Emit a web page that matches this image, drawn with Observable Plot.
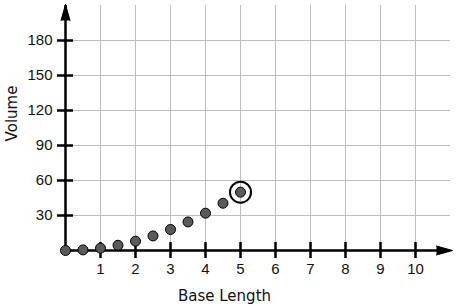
<!DOCTYPE html>
<html>
<head>
<meta charset="utf-8">
<script src="https://cdn.jsdelivr.net/npm/d3@7"></script>
<script src="https://cdn.jsdelivr.net/npm/@observablehq/plot@0.6"></script>
<style>
  html, body { margin: 0; padding: 0; background: #fff; }
  #chart svg { display: block; }
</style>
</head>
<body>
<div id="chart"></div>
<script>
const baseLength = [0, 0.5, 1, 1.5, 2, 2.5, 3, 3.5, 4, 4.5, 5];
const volume = [0, 0.5, 2, 4.5, 8, 12.5, 18, 24.5, 32, 40.5, 50];
const xTicks = [1, 2, 3, 4, 5, 6, 7, 8, 9, 10];
const yTicks = [30, 60, 90, 120, 150, 180];
const highlightIndex = [10];
const xTitle = "Base Length";
const yTitle = "Volume";
const xMax = 11;
const yMax = 210;

const points = baseLength.map((b, i) => ({x: b, y: volume[i]}));
const highlighted = highlightIndex.map(i => points[i]);

const chart = Plot.plot({
  width: 456,
  height: 308,
  marginLeft: 65,
  marginRight: 6,
  marginTop: 5,
  marginBottom: 58,
  style: {fontFamily: "'Liberation Sans', Arial, sans-serif", fontSize: "15px", background: "#fff"},
  x: {domain: [0, xMax]},
  y: {domain: [0, yMax]},
  marks: [
    Plot.gridX(xTicks, {stroke: "#bdbdbd", strokeOpacity: 1, strokeWidth: 1}),
    Plot.gridY(yTicks, {stroke: "#bdbdbd", strokeOpacity: 1, strokeWidth: 1}),
    Plot.ruleY([0], {x1: 0, x2: xMax, stroke: "black", strokeWidth: 2.5}),
    Plot.ruleX([0], {y1: 0, y2: yMax, stroke: "black", strokeWidth: 2.5}),
    Plot.vector([{x: xMax, y: 0}], {x: "x", y: "y", length: 16, r: 4.5, rotate: 90, anchor: "end", shape: "spike", fill: "black", stroke: "black", strokeWidth: 1, dx: 2}),
    Plot.vector([{x: 0, y: yMax}], {x: "x", y: "y", length: 16, r: 4.5, rotate: 0, anchor: "end", shape: "spike", fill: "black", stroke: "black", strokeWidth: 1, dy: -1}),
    Plot.axisX(xTicks, {tickSize: 16, dy: -8, tickPadding: 5, strokeWidth: 2.5, stroke: "black", label: null, fontSize: 15, fill: "#111"}),
    Plot.axisY(yTicks, {tickSize: 16, dx: 8, tickPadding: 5, strokeWidth: 2.5, stroke: "black", label: null, fontSize: 15, fill: "#111"}),
    Plot.dot(points, {x: "x", y: "y", r: 5, fill: "#5a5a5a", stroke: "black", strokeWidth: 1}),
    Plot.dot(highlighted, {x: "x", y: "y", r: 10.5, fill: "none", stroke: "black", strokeWidth: 2}),
    Plot.text([xTitle], {frameAnchor: "bottom", text: d => d, textAnchor: "middle", lineAnchor: "middle", dx: -33.5, dy: 46, fontFamily: "'DejaVu Sans', sans-serif", fontSize: 15, fill: "#111"}),
    Plot.text([yTitle], {frameAnchor: "left", text: d => d, textAnchor: "middle", lineAnchor: "middle", rotate: -90, dx: -53, dy: -14.5, fontFamily: "'DejaVu Sans', sans-serif", fontSize: 15, fill: "#111"})
  ]
});
document.getElementById("chart").appendChild(chart);
</script>
</body>
</html>
